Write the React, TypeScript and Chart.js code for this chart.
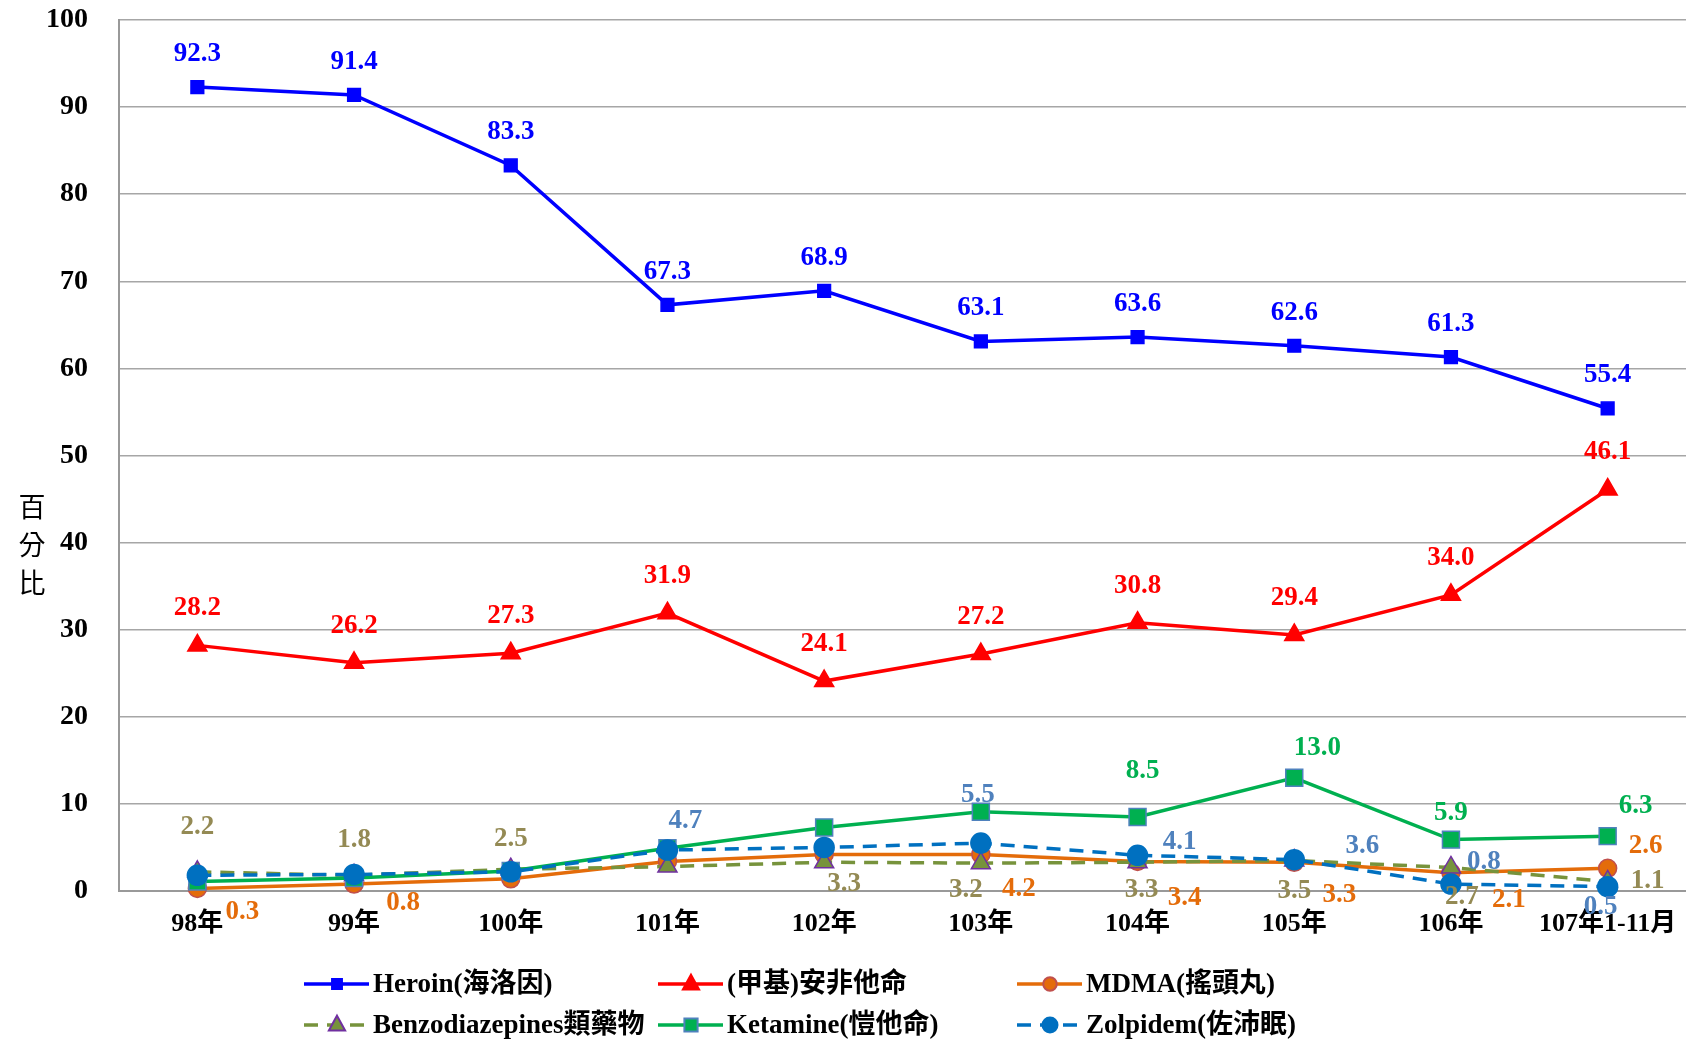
import React, { useEffect, useRef } from "react";
import { Chart, registerables } from "chart.js";
Chart.register(...registerables);

const categories = ["98年", "99年", "100年", "101年", "102年", "103年", "104年", "105年", "106年", "107年1-11月"];
const heroin = [92.3, 91.4, 83.3, 67.3, 68.9, 63.1, 63.6, 62.6, 61.3, 55.4];
const meth = [28.2, 26.2, 27.3, 31.9, 24.1, 27.2, 30.8, 29.4, 34.0, 46.1];
const mdma = [0.3, 0.8, 1.4, 3.4, 4.2, 4.2, 3.4, 3.3, 2.1, 2.6];
const benzo = [2.2, 1.8, 2.5, 2.8, 3.3, 3.2, 3.3, 3.5, 2.7, 1.1];
const ketamine = [1.1, 1.5, 2.3, 4.9, 7.3, 9.1, 8.5, 13.0, 5.9, 6.3];
const zolpidem = [1.8, 1.9, 2.2, 4.7, 5.0, 5.5, 4.1, 3.6, 0.8, 0.5];
const seriesNames = ["Heroin(海洛因)", "(甲基)安非他命", "MDMA(搖頭丸)", "Benzodiazepines類藥物", "Ketamine(愷他命)", "Zolpidem(佐沛眠)"];
const yTickValues = [0, 10, 20, 30, 40, 50, 60, 70, 80, 90, 100];
const yTitle = ["百", "分", "比"];

// label placement (pixel offsets from the point; null = no label shown)
type Off = [number, number] | null;
const heroinLabelOff: Off[] = heroin.map(() => [0, -33]);
const methLabelOff: Off[] = meth.map(() => [0, -37]);
const mdmaLabelOff: Off[] = [[45, 24], [49, 19], null, null, null, [38, 35], [47, 37], [45, 33], [58, 27], [38, -22]];
const benzoLabelOff: Off[] = [[0, -45], [0, -35], [0, -30], null, [20, 22], [-15, 27], [4, 28], [0, 31], [11, 30], [40, 0]];
const ketamineLabelOff: Off[] = [null, null, null, null, null, null, [5, -46], [23, -30], [0, -27], [28, -30]];
const zolpidemLabelOff: Off[] = [null, null, null, [18, -29], null, [-3, -48], [42, -13], [68, -14], [33, -22], [-7, 20]];

const SERIF = '"Liberation Serif", "Times New Roman", "Noto Sans CJK TC", serif';

export default function App() {
  const ref = useRef<HTMLCanvasElement>(null);
  useEffect(() => {
    if (!ref.current) return;
    const labelCfg = [
      { off: heroinLabelOff, color: "#0000FF" },
      { off: methLabelOff, color: "#FF0000" },
      { off: mdmaLabelOff, color: "#E46C0A" },
      { off: benzoLabelOff, color: "#948A54" },
      { off: ketamineLabelOff, color: "#00B050" },
      { off: zolpidemLabelOff, color: "#4F81BD" },
    ];
    const dataLabelPlugin = {
      id: "dataLabels",
      afterDatasetsDraw(chart: any) {
        const ctx = chart.ctx;
        ctx.save();
        ctx.font = `bold 27px ${SERIF}`;
        ctx.textAlign = "center";
        ctx.textBaseline = "middle";
        chart.data.datasets.forEach((ds: any, i: number) => {
          const meta = chart.getDatasetMeta(i);
          const cfg = labelCfg[i];
          meta.data.forEach((pt: any, j: number) => {
            const o = cfg.off[j];
            if (!o) return;
            ctx.fillStyle = cfg.color;
            ctx.fillText(Number(ds.data[j]).toFixed(1), pt.x + o[0], pt.y + o[1]);
          });
        });
        ctx.restore();
      },
    };
    const extrasPlugin = {
      id: "extras",
      afterDraw(chart: any) {
        const ctx = chart.ctx;
        ctx.save();
        ctx.font = `27px "Noto Sans CJK TC", sans-serif`;
        ctx.fillStyle = "#000";
        ctx.textAlign = "center";
        ctx.textBaseline = "middle";
        const ys = [507, 545, 583];
        yTitle.forEach((c, k) => ctx.fillText(c, 32, ys[k]));
        const cols = [304, 658, 1017];
        const rows = [984, 1025];
        chart.data.datasets.forEach((ds: any, i: number) => {
          const x0 = cols[i % 3];
          const y0 = rows[Math.floor(i / 3)];
          ctx.save();
          ctx.strokeStyle = ds.borderColor;
          ctx.lineWidth = ds.borderWidth;
          ctx.setLineDash(ds.borderDash || []);
          ctx.beginPath();
          ctx.moveTo(x0, y0);
          ctx.lineTo(x0 + 65, y0);
          ctx.stroke();
          ctx.setLineDash([]);
          ctx.fillStyle = ds.pointBackgroundColor;
          ctx.strokeStyle = ds.pointBorderColor;
          ctx.lineWidth = 2;
          const cx = x0 + 33;
          ctx.beginPath();
          if (ds.pointStyle === "rect") {
            const h = ds.pointRadius * 0.55;
            ctx.rect(cx - h, y0 - h, h * 2, h * 2);
          } else if (ds.pointStyle === "triangle") {
            const r = ds.pointRadius * 0.85;
            ctx.moveTo(cx, y0 - r);
            ctx.lineTo(cx + r * 0.87, y0 + r * 0.6);
            ctx.lineTo(cx - r * 0.87, y0 + r * 0.6);
            ctx.closePath();
          } else {
            ctx.arc(cx, y0, ds.pointRadius * 0.75, 0, Math.PI * 2);
          }
          ctx.fill();
          ctx.stroke();
          ctx.restore();
          ctx.font = `bold 27px ${SERIF}`;
          ctx.fillStyle = "#000";
          ctx.textAlign = "left";
          ctx.textBaseline = "middle";
          ctx.fillText(seriesNames[i], x0 + 69, y0 + 1);
        });
        ctx.restore();
      },
    };
    const mk = (label: string, data: number[], line: string, fill: string, border: string, style: string, radius: number, dash: number[] | undefined, order: number) => ({
      label,
      data,
      borderColor: line,
      backgroundColor: line,
      borderWidth: 3.5,
      borderDash: dash,
      pointStyle: style,
      pointRadius: radius,
      pointBackgroundColor: fill,
      pointBorderColor: border,
      pointBorderWidth: 1.5,
      tension: 0,
      clip: false,
      order,
    });
    const chart = new Chart(ref.current, {
      type: "line",
      data: {
        labels: categories,
        datasets: [
          mk(seriesNames[0], heroin, "#0000FF", "#0000FF", "#0000FF", "rect", 9, undefined, 5),
          mk(seriesNames[1], meth, "#FF0000", "#FF0000", "#FF0000", "triangle", 11, undefined, 4),
          mk(seriesNames[2], mdma, "#E46C0A", "#E46C0A", "#C0504D", "circle", 9, undefined, 3),
          mk(seriesNames[3], benzo, "#77933C", "#77933C", "#7030A0", "triangle", 11, [14, 9], 2),
          mk(seriesNames[4], ketamine, "#00B050", "#00B050", "#4F81BD", "rect", 12, undefined, 1),
          mk(seriesNames[5], zolpidem, "#0070C0", "#0070C0", "#0070C0", "circle", 10, [14, 9], 0),
        ] as any,
      },
      options: {
        responsive: false,
        animation: false,
        layout: { autoPadding: false, padding: { top: 20, left: 0, right: 0, bottom: 0 } },
        plugins: { legend: { display: false }, tooltip: { enabled: false } },
        scales: {
          x: {
            offset: true,
            grid: { display: false, drawTicks: false },
            border: { display: true, color: "#999999", width: 2 },
            ticks: {
              autoSkip: false,
              maxRotation: 0,
              minRotation: 0,
              padding: 18,
              color: "#000",
              font: { family: SERIF, size: 26, weight: "bold" },
            },
            afterFit: (s: any) => {
              s.height = 152;
              s.paddingLeft = 0;
              s.paddingRight = 0;
            },
          },
          y: {
            min: 0,
            max: 100,
            afterBuildTicks: (s: any) => {
              s.ticks = yTickValues.map((v) => ({ value: v }));
            },
            grid: { color: "#A6A6A6", lineWidth: 1.5, drawTicks: false },
            border: { display: true, color: "#999999", width: 2 },
            ticks: {
              padding: 31,
              color: "#000",
              font: { family: SERIF, size: 28, weight: "bold" },
            },
            afterFit: (s: any) => {
              s.width = 119;
              s.paddingTop = 0;
              s.paddingBottom = 0;
            },
          },
        },
      },
      plugins: [dataLabelPlugin, extrasPlugin],
    });
    return () => chart.destroy();
  }, []);
  return (
    <div style={{ position: "absolute", left: 0, top: 0, width: 1686, height: 1043, background: "#fff" }}>
      <canvas ref={ref} width={1686} height={1043} style={{ width: 1686, height: 1043 }} />
    </div>
  );
}
